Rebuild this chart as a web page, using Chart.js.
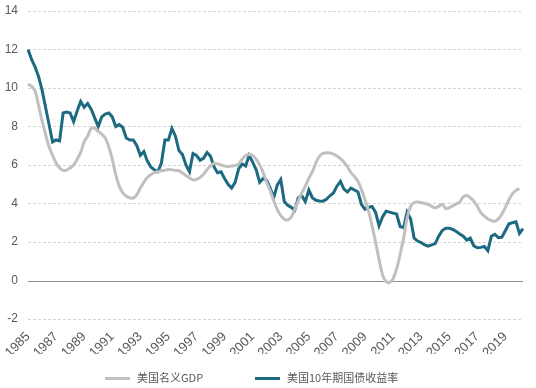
<!DOCTYPE html>
<html>
<head>
    <meta charset="utf-8">
    <title>美国名义GDP与10年期国债收益率</title>
    <script src="https://cdn.jsdelivr.net/npm/chart.js"></script>
    <style>
        html, body {
            margin: 0;
            padding: 0;
            background-color: white;
        }
        #wrap {
            position: relative;
            width: 536px;
            height: 388px;
        }
        #legend {
            position: absolute;
            left: 0;
            top: 369px;
            width: 536px;
            height: 16px;
            font-family: "Noto Sans CJK SC", sans-serif;
            font-size: 11px;
            color: #595959;
        }
        .item {
            position: absolute;
            top: 0;
            line-height: 16px;
            white-space: nowrap;
        }
        .swatch {
            display: inline-block;
            width: 25px;
            height: 3px;
            vertical-align: middle;
            margin-right: 7px;
            margin-top: -2px;
        }
    </style>
</head>
<body>
    <div id="wrap">
        <canvas id="rateChart"></canvas>
        <div id="legend"></div>
    </div>

    <script>
        // quarterly, 1985Q1 .. 2020Q2
        let years = [];
        for (let y = 1985; y <= 2020; y++) {
            for (let q = 1; q <= 4; q++) {
                if (y === 2020 && q > 2) break;
                years.push(y + 'Q' + q);
            }
        }

        let yTicks = [-2, 0, 2, 4, 6, 8, 10, 12, 14];

        let gdpNominal = [
            10.2, 10.1, 9.85, 9.1, 8.3, 7.6, 6.95, 6.5, 6.1, 5.85,
            5.72, 5.73, 5.85, 6.0, 6.3, 6.65, 7.2, 7.5, 7.9, 7.9,
            7.75, 7.6, 7.4, 6.95, 6.3, 5.5, 4.9, 4.55, 4.38, 4.3,
            4.28, 4.45, 4.8, 5.1, 5.35, 5.5, 5.6, 5.65, 5.7, 5.72,
            5.77, 5.75, 5.72, 5.7, 5.58, 5.45, 5.33, 5.23, 5.25, 5.35,
            5.52, 5.75, 5.95, 6.08, 6.06, 6.0, 5.95, 5.92, 5.95, 5.97,
            6.05, 6.3, 6.5, 6.55, 6.5, 6.3, 6.0, 5.6, 5.1, 4.65,
            4.15, 3.7, 3.38, 3.18, 3.15, 3.3, 3.7, 4.15, 4.55, 4.9,
            5.3, 5.65, 6.1, 6.45, 6.6, 6.63, 6.62, 6.57, 6.47, 6.33,
            6.15, 5.9, 5.6, 5.4, 5.15, 4.72, 4.2, 3.6, 2.85, 2.0,
            1.1, 0.3, -0.05, -0.1, 0.1, 0.6, 1.35, 2.2, 3.25, 3.85,
            4.05, 4.08, 4.05, 4.0, 3.95, 3.85, 3.78, 3.85, 3.95, 3.75,
            3.78, 3.88, 3.98, 4.08, 4.35, 4.42, 4.3, 4.12, 3.85, 3.52,
            3.35, 3.2, 3.12, 3.08, 3.2, 3.45, 3.8, 4.2, 4.5, 4.68,
            4.78, null
        ];

        let treasury10y = [
            12.0, 11.5, 11.1, 10.6, 9.9, 9.0, 8.1, 7.2, 7.3, 7.25,
            8.7, 8.75, 8.7, 8.25, 8.8, 9.3, 9.0, 9.2, 8.9, 8.45,
            8.0, 8.5, 8.65, 8.7, 8.5, 8.0, 8.1, 7.95, 7.4, 7.3,
            7.3, 7.0, 6.5, 6.7, 6.2, 5.9, 5.75, 5.65, 6.1, 7.3,
            7.3, 7.9, 7.5, 6.75, 6.55, 6.0, 5.65, 6.6, 6.5, 6.25,
            6.35, 6.65, 6.45, 5.9, 5.6, 5.65, 5.3, 5.0, 4.8, 5.1,
            5.8, 6.05, 5.95, 6.5, 6.15, 5.75, 5.1, 5.3, 5.2, 4.8,
            4.3, 4.95, 5.25, 4.1, 3.9, 3.8, 3.65, 4.3, 4.4, 4.1,
            4.7, 4.3, 4.17, 4.13, 4.12, 4.22, 4.4, 4.55, 4.9, 5.15,
            4.75, 4.6, 4.8, 4.7, 4.6, 3.95, 3.7, 3.8, 3.85, 3.55,
            2.85, 3.3, 3.6, 3.55, 3.5, 3.45, 2.8, 2.75, 3.55, 3.2,
            2.2, 2.05, 1.97, 1.85, 1.78, 1.85, 1.92, 2.3, 2.6, 2.72,
            2.72, 2.65, 2.55, 2.42, 2.3, 2.1, 2.2, 1.8, 1.7, 1.72,
            1.77, 1.55, 2.3, 2.4, 2.22, 2.25, 2.6, 2.95, 3.0, 3.05,
            2.45, 2.7
        ];

        // solid zero line over the dashed grid
        const zeroLine = {
            id: 'zeroLine',
            beforeDatasetsDraw(chart) {
                let yScale = chart.scales.y;
                let area = chart.chartArea;
                let py = Math.round(yScale.getPixelForValue(0)) + 0.5;
                let ctx = chart.ctx;
                ctx.save();
                ctx.strokeStyle = '#8c8c8c';
                ctx.lineWidth = 1;
                ctx.beginPath();
                ctx.moveTo(area.left, py);
                ctx.lineTo(area.right, py);
                ctx.stroke();
                ctx.restore();
            }
        };

        let ctx = document.getElementById('rateChart').getContext('2d');
        let rateChart = new Chart(ctx, {
            type: 'line',
            data: {
                labels: years,
                datasets: [{
                    label: '美国名义GDP',
                    data: gdpNominal,
                    borderColor: '#c0c0c0',
                    backgroundColor: '#c0c0c0',
                    borderWidth: 3,
                    pointRadius: 0,
                    tension: 0.4
                }, {
                    label: '美国10年期国债收益率',
                    data: treasury10y,
                    borderColor: '#1b6a82',
                    backgroundColor: '#1b6a82',
                    borderWidth: 3,
                    pointRadius: 0,
                    tension: 0
                }]
            },
            options: {
                responsive: true,
                maintainAspectRatio: false,
                animation: false,
                layout: {
                    padding: { top: 11, right: 4, left: 0, bottom: 34 }
                },
                plugins: {
                    legend: { display: false },
                    tooltip: { enabled: false }
                },
                scales: {
                    x: {
                        afterFit: function(scale) { scale.height = 35; },
                        grid: { display: false },
                        border: { display: false },
                        ticks: {
                            autoSkip: false,
                            maxRotation: 45,
                            minRotation: 45,
                            padding: 2,
                            color: '#595959',
                            font: { family: '"Liberation Sans", Arial, sans-serif', size: 13 },
                            callback: function(value, index) {
                                return index % 8 === 0 ? years[index].slice(0, 4) : '';
                            }
                        }
                    },
                    y: {
                        min: -2,
                        max: 14,
                        afterFit: function(scale) {
                            scale.width = 28;
                            scale.paddingTop = 0;
                            scale.paddingBottom = 0;
                        },
                        afterBuildTicks: function(scale) {
                            scale.ticks = yTicks.map(v => ({ value: v }));
                        },
                        grid: {
                            color: ctx => ctx.tick && ctx.tick.value === 0 ? 'rgba(0,0,0,0)' : '#d4d4d4',
                            drawTicks: false
                        },
                        border: { display: false, dash: [3, 2] },
                        ticks: {
                            padding: 10,
                            color: '#595959',
                            font: { family: '"Liberation Sans", Arial, sans-serif', size: 12 }
                        }
                    }
                }
            },
            plugins: [zeroLine]
        });

        // legend below the plot, built from the datasets
        let legendLeft = [105, 255];
        let legend = document.getElementById('legend');
        rateChart.data.datasets.forEach((ds, i) => {
            let item = document.createElement('span');
            item.className = 'item';
            item.style.left = legendLeft[i] + 'px';
            let sw = document.createElement('span');
            sw.className = 'swatch';
            sw.style.backgroundColor = ds.borderColor;
            item.appendChild(sw);
            item.appendChild(document.createTextNode(ds.label));
            legend.appendChild(item);
        });
    </script>
</body>
</html>
